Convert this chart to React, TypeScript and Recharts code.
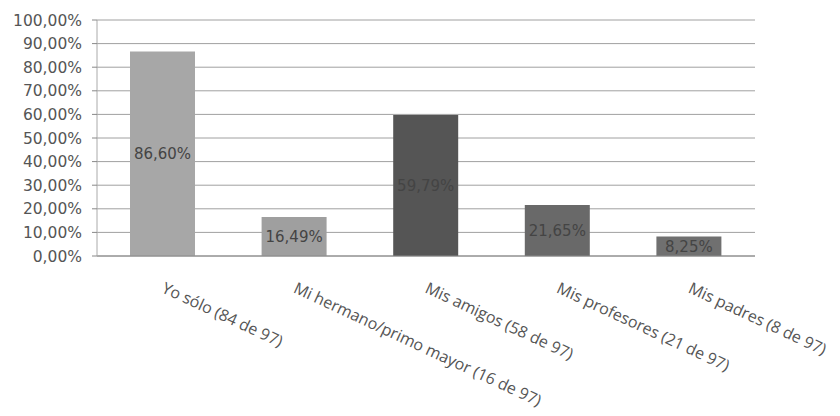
import { BarChart, Bar, XAxis, YAxis, CartesianGrid, Cell, LabelList } from "recharts";

const categories = [
  "Yo sólo (84 de 97)",
  "Mi hermano/primo mayor (16 de 97)",
  "Mis amigos (58 de 97)",
  "Mis profesores  (21 de 97)",
  "Mis padres (8 de 97)",
];
const percentages = [86.6, 16.49, 59.79, 21.65, 8.25];
const yTicks = [0, 10, 20, 30, 40, 50, 60, 70, 80, 90, 100];
const boundaryTicks = [0, 1, 2, 3, 4, 5];

const BAR_COLORS = ["#a7a7a7", "#9f9f9f", "#555555", "#696969", "#707070"];
const LABEL_FONT = "'Open Sans', sans-serif";
const NUM_FONT = "'DejaVu Sans', sans-serif";

const data = categories.map((name, i) => ({ name, value: percentages[i] }));

const fmt = (v: number) => v.toFixed(2).replace(".", ",") + "%";

const CategoryTick = (props: any) => {
  const { x, y, payload } = props;
  const ax = x - 2;
  const ay = y + 28;
  return (
    <text
      x={ax}
      y={ay}
      transform={`rotate(25, ${ax}, ${ay})`}
      textAnchor="start"
      fontSize={16}
      fontFamily={LABEL_FONT}
      fill="#555"
    >
      {payload.value}
    </text>
  );
};

export default function App() {
  return (
    <div style={{ margin: -8, width: 840, height: 416, background: "#fff", overflow: "hidden" }}>
      <BarChart
        width={840}
        height={416}
        data={data}
        margin={{ top: 20, right: 85, left: 0, bottom: 0 }}
      >
        <CartesianGrid vertical={false} stroke="#a0a0a0" />
        <XAxis
          xAxisId="cat"
          dataKey="name"
          interval={0}
          height={160}
          tickLine={false}
          axisLine={{ stroke: "#888" }}
          tick={<CategoryTick />}
        />
        <XAxis
          xAxisId="edges"
          type="number"
          domain={[0, 5]}
          ticks={boundaryTicks}
          height={0}
          axisLine={false}
          tickLine={{ stroke: "#888" }}
          tickSize={5}
          tickFormatter={() => ""}
        />
        <YAxis
          domain={[0, 100]}
          ticks={yTicks}
          interval={0}
          width={97}
          tickFormatter={fmt}
          tickSize={5}
          tickMargin={10}
          axisLine={{ stroke: "#aaa" }}
          tickLine={{ stroke: "#888" }}
          tick={{ fontSize: 15.5, fontFamily: NUM_FONT, fill: "#555" }}
        />
        <Bar xAxisId="cat" dataKey="value" barSize={65} isAnimationActive={false}>
          {data.map((_, i) => (
            <Cell key={i} fill={BAR_COLORS[i]} />
          ))}
          <LabelList
            dataKey="value"
            position="center"
            formatter={(v: any) => fmt(Number(v))}
            style={{ fontSize: 15, fontFamily: NUM_FONT, fill: "#444" }}
          />
        </Bar>
      </BarChart>
    </div>
  );
}
